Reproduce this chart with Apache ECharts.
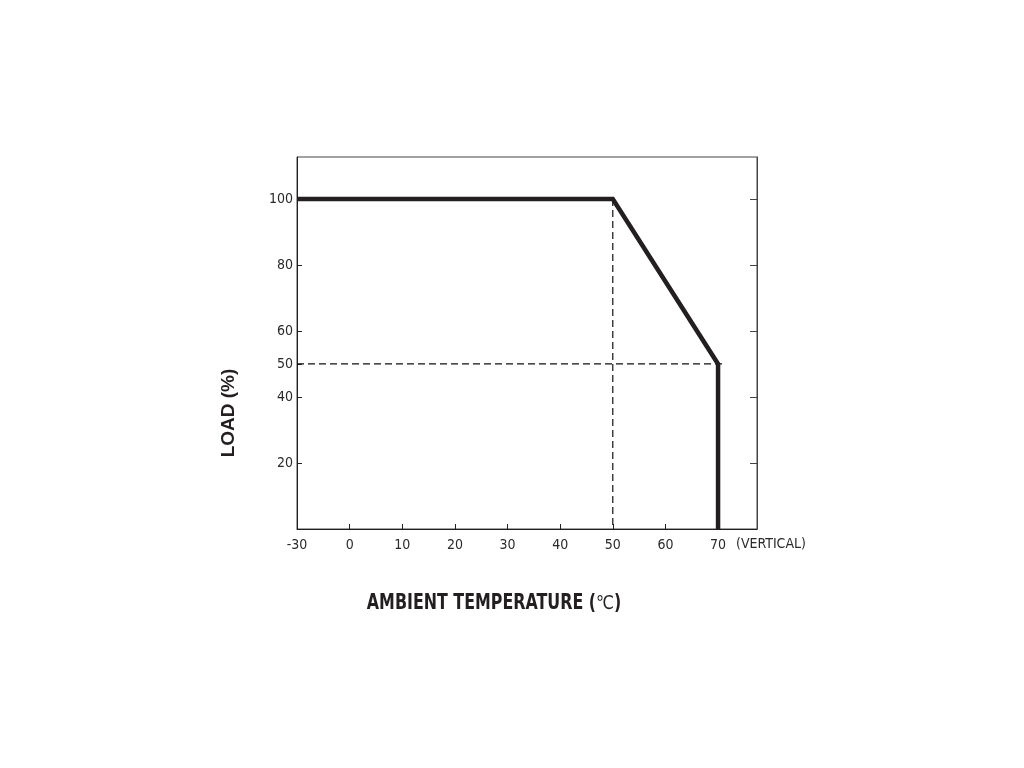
<!DOCTYPE html>
<html>
<head>
<meta charset="utf-8">
<script src="https://cdn.jsdelivr.net/npm/echarts@6/dist/echarts.min.js"></script>
<style>html,body{margin:0;padding:0;background:#fff;}#c{width:1024px;height:768px;}</style>
</head>
<body>
<div id="c"></div>
<script>
// Tick labels
var xTicks = [-30, 0, 10, 20, 30, 40, 50, 60, 70];
var yTicks = [20, 40, 50, 60, 80, 100];
var yTicksRight = [20, 40, 60, 80, 100];
// Derating curve (temperature in °C, load in %)
var curveTemp = [-30, 50, 70, 70];
var curveLoad = [100, 100, 50, 0];
// Dashed guide lines
var guideVTemp = [50, 50];
var guideVLoad = [100, 0];
var guideHTemp = [-30, 71.5];
var guideHLoad = [50, 50];

// Broken x axis: -30..0 is drawn as one 10-degree interval
function pos(t) { return t < 0 ? (t + 30) / 3 - 10 : t; }
function lab(p) { return p < 0 ? String(Math.round((p + 10) * 3 - 30)) : String(p); }
function pts(xs, ys) { return xs.map(function (x, i) { return [pos(x), ys[i]]; }); }

var FONT = "'Liberation Sans Narrow', 'DejaVu Sans Condensed', 'Liberation Sans', sans-serif";
var INK = '#231f20';

var chart = echarts.init(document.getElementById('c'), null, { renderer: 'canvas' });
chart.setOption({
  backgroundColor: '#fff',
  animation: false,
  grid: { left: 297, right: 267, top: 157, bottom: 239, show: true, borderColor: '#444', borderWidth: 1 },
  xAxis: {
    type: 'value', min: -10, max: 77.4,
    axisLine: { show: true, onZero: false, lineStyle: { color: INK, width: 1 } },
    axisTick: { show: true, inside: true, length: 5, lineStyle: { color: INK },
      customValues: xTicks.map(pos) },
    axisLabel: { show: true, color: '#2a2a2a', fontFamily: FONT, fontSize: 14, margin: 9,
      customValues: xTicks.map(pos), formatter: function (v) { return lab(v); } },
    splitLine: { show: false }
  },
  yAxis: [{
    type: 'value', min: 0, max: 112.7, position: 'left',
    axisLine: { show: true, onZero: false, lineStyle: { color: INK, width: 1 } },
    axisTick: { show: true, inside: true, length: 5, lineStyle: { color: INK }, customValues: yTicks },
    axisLabel: { show: true, color: '#2a2a2a', fontFamily: FONT, fontSize: 14, margin: 4, customValues: yTicks },
    splitLine: { show: false }
  }, {
    type: 'value', min: 0, max: 112.7, position: 'right',
    axisLine: { show: true, onZero: false, lineStyle: { color: '#444', width: 1 } },
    axisTick: { show: true, inside: true, length: 7, lineStyle: { color: '#444' }, customValues: yTicksRight },
    axisLabel: { show: false },
    splitLine: { show: false }
  }],
  graphic: [{
    type: 'text', left: 736, top: 537,
    style: { text: '(VERTICAL)', fill: '#2a2a2a', font: '14px ' + FONT }
  }, {
    type: 'text', x: 229, y: 413, rotation: Math.PI / 2,
    style: { text: 'LOAD (%)', fill: INK, font: "bold 19px 'Liberation Sans', Arial, sans-serif",
      align: 'center', verticalAlign: 'middle' }
  }, {
    type: 'text', x: 494, y: 604, scaleX: 0.84,
    style: {
      text: '{b|AMBIENT TEMPERATURE (}{c|℃}{b|)}',
      align: 'center', verticalAlign: 'middle',
      rich: {
        b: { fill: INK, fontFamily: FONT, fontWeight: 'bold', fontSize: 21 },
        c: { fill: INK, fontFamily: "'DejaVu Sans', sans-serif", fontWeight: 'normal', fontSize: 19 }
      }
    }
  }],
  series: [{
    type: 'line', data: pts(guideVTemp, guideVLoad), symbol: 'none', silent: true,
    lineStyle: { color: '#111', width: 1.2, type: [7, 4] }, z: 1
  }, {
    type: 'line', data: pts(guideHTemp, guideHLoad), symbol: 'none', silent: true,
    lineStyle: { color: '#111', width: 1.2, type: [7, 4] }, z: 1
  }, {
    type: 'line', data: pts(curveTemp, curveLoad), symbol: 'none', silent: true,
    lineStyle: { color: INK, width: 4.5, join: 'miter', cap: 'butt' }, z: 3
  }]
});
</script>
</body>
</html>
